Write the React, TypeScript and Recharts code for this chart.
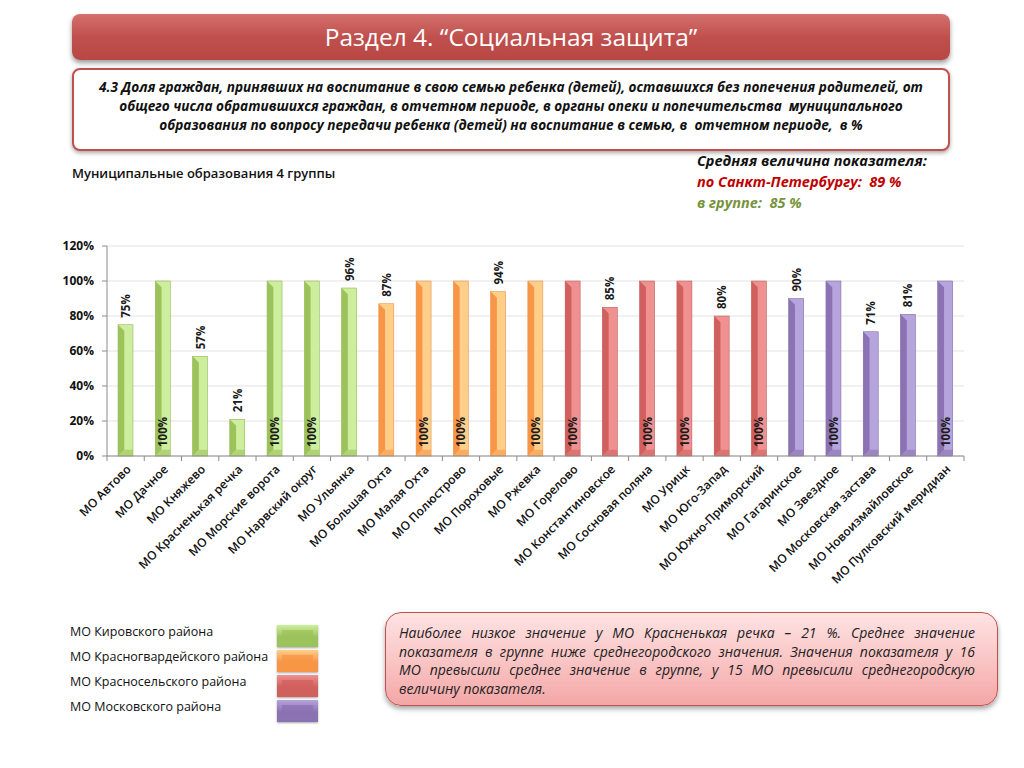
import React from "react"
import {
  BarChart,
  Bar,
  XAxis,
  YAxis,
  CartesianGrid,
  LabelList,
} from "recharts"

// Municipal districts of group 4
const categories = [
  "МО Автово",
  "МО Дачное",
  "МО Княжево",
  "МО Красненькая речка",
  "МО Морские ворота",
  "МО Нарвский округ",
  "МО Ульянка",
  "МО Большая Охта",
  "МО Малая Охта",
  "МО Полюстрово",
  "МО Пороховые",
  "МО Ржевка",
  "МО Горелово",
  "МО Константиновское",
  "МО Сосновая поляна",
  "МО Урицк",
  "МО Юго-Запад",
  "МО Южно-Приморский",
  "МО Гагаринское",
  "МО Звездное",
  "МО Московская застава",
  "МО Новоизмайловское",
  "МО Пулковский меридиан",
]

// Share, %
const values = [75, 100, 57, 21, 100, 100, 96, 87, 100, 100, 94, 100, 100, 85, 100, 100, 80, 100, 90, 100, 71, 81, 100]

// Which district each MO belongs to
const groups = [
  "kir", "kir", "kir", "kir", "kir", "kir", "kir",
  "krg", "krg", "krg", "krg", "krg",
  "krs", "krs", "krs", "krs", "krs", "krs",
  "mos", "mos", "mos", "mos", "mos",
]

const yTicks = [0, 20, 40, 60, 80, 100, 120]

const legendItems = [
  { key: "kir", label: "МО Кировского района" },
  { key: "krg", label: "МО Красногвардейского района" },
  { key: "krs", label: "МО Красносельского района" },
  { key: "mos", label: "МО Московского района" },
]

const noteLines = [
  "Наиболее низкое значение у МО Красненькая речка – 21 %. Среднее значение",
  "показателя в группе ниже среднегородского значения. Значения показателя у 16",
  "МО превысили среднее значение в группе, у 15 МО превысили среднегородскую",
  "величину показателя.",
]

const palette: Record<string, { dark: string; light: string; edge: string }> = {
  kir: { dark: "#9cc25c", light: "#cdee9c", edge: "#86a94a" },
  krg: { dark: "#f79646", light: "#ffcf8a", edge: "#e0853a" },
  krs: { dark: "#d0605e", light: "#ee9190", edge: "#b84f4d" },
  mos: { dark: "#8b72b2", light: "#b6a4dc", edge: "#76609a" },
}

const data = categories.map((name, i) => ({ name, value: values[i], group: groups[i] }))

const FONT = "'Open Sans', 'DejaVu Sans', sans-serif"
const CHART_W = 1000
const CHART_H = 380
const MARGIN = { top: 16, right: 36, left: 0, bottom: 0 }
const Y_W = 107
const halfBand = (CHART_W - MARGIN.right - MARGIN.left - Y_W) / categories.length / 2

function BevelBar(props: any) {
  const { x, y, width, height, payload } = props
  if (!height || height <= 0) return null
  const c = palette[payload.group]
  const s = width * 0.42
  return (
    <g>
      <rect x={x} y={y} width={width} height={height} fill={c.light} stroke={c.edge} strokeWidth={0.5} />
      <polygon
        points={`${x},${y} ${x + s},${y + s} ${x + s},${y + height - s} ${x},${y + height}`}
        fill={c.dark}
      />
      <polygon
        points={`${x},${y + height} ${x + s},${y + height - s} ${x + width},${y + height - s} ${x + width},${y + height}`}
        fill={c.dark}
        opacity={0.6}
      />
    </g>
  )
}

function ValueLabel(props: any) {
  const { x, y, width, height, value } = props
  const cx = x + width / 2
  // full bars carry the label inside, at the bottom
  const ty = value >= 100 ? y + height - 9 : y - 7
  return (
    <text
      x={cx}
      y={ty}
      transform={`rotate(-90, ${cx}, ${ty})`}
      textAnchor="start"
      dominantBaseline="central"
      fontSize={11.5}
      fontWeight={700}
      fill="#1a1a1a"
      fontFamily={FONT}
    >
      {value}%
    </text>
  )
}

function XTick(props: any) {
  const { x, y, payload, index } = props
  const ax = x + 6
  const ay = y + 14
  return (
    <g>
      <line x1={x - halfBand} y1={y} x2={x - halfBand} y2={y + 5} stroke="#8c8c8c" />
      {index === categories.length - 1 && (
        <line x1={x + halfBand} y1={y} x2={x + halfBand} y2={y + 5} stroke="#8c8c8c" />
      )}
      <text
        x={ax}
        y={ay}
        transform={`rotate(-45, ${ax}, ${ay})`}
        textAnchor="end"
        fontSize={12}
        fontWeight={600}
        fill="#111"
        fontFamily={FONT}
      >
        {payload.value}
      </text>
    </g>
  )
}

function Swatch({ group }: { group: string }) {
  const c = palette[group]
  return (
    <div
      style={{
        width: 41,
        height: 22,
        position: "relative",
        background: `linear-gradient(180deg, ${c.light} 0%, ${c.dark} 55%, ${c.dark} 100%)`,
        boxShadow: "0 1px 2px rgba(0,0,0,0.35)",
        marginBottom: 3,
      }}
    >
      <div
        style={{
          position: "absolute",
          left: 5,
          top: 5,
          right: 5,
          bottom: 5,
          background: c.dark,
          opacity: 0.75,
        }}
      />
    </div>
  )
}

export default function App() {
  return (
    <div
      style={{
        position: "absolute",
        left: 0,
        top: 0,
        width: 1024,
        height: 768,
        background: "#fff",
        fontFamily: FONT,
        overflow: "hidden",
      }}
    >
      {/* header */}
      <div
        style={{
          position: "absolute",
          left: 72,
          top: 14,
          width: 878,
          height: 46,
          borderRadius: 8,
          background: "linear-gradient(180deg, #d4706d 0%, #c0504d 50%, #b84744 100%)",
          boxShadow: "0 3px 5px rgba(0,0,0,0.4)",
          color: "#fff",
          fontSize: 24.5,
          lineHeight: "46px",
          textAlign: "center",
        }}
      >
        Раздел 4. “Социальная защита”
      </div>

      {/* indicator description */}
      <div
        style={{
          position: "absolute",
          left: 72,
          top: 68,
          width: 874,
          height: 72,
          border: "2px solid #c0504d",
          borderRadius: 8,
          background: "#fff",
          boxShadow: "0 2px 4px rgba(0,0,0,0.35)",
          fontSize: 13.6,
          fontWeight: 700,
          fontStyle: "italic",
          lineHeight: "19px",
          textAlign: "center",
          paddingTop: 7,
          boxSizing: "content-box",
          color: "#111",
        }}
      >
        <div>4.3 Доля граждан, принявших на воспитание в свою семью ребенка (детей), оставшихся без попечения родителей, от</div>
        <div>общего числа обратившихся граждан, в отчетном периоде, в органы опеки и попечительства&nbsp; муниципального</div>
        <div>образования по вопросу передачи ребенка (детей) на воспитание в семью, в&nbsp; отчетном периоде,&nbsp; в %</div>
      </div>

      <div style={{ position: "absolute", left: 72, top: 164, fontSize: 13, fontWeight: 600, color: "#111" }}>
        Муниципальные образования 4 группы
      </div>

      <div
        style={{
          position: "absolute",
          left: 697,
          top: 150,
          fontSize: 14.5,
          fontWeight: 700,
          fontStyle: "italic",
          lineHeight: "21px",
        }}
      >
        <div style={{ color: "#111" }}>Средняя величина показателя:</div>
        <div style={{ color: "#c00000" }}>по Санкт-Петербургу:&nbsp; 89 %</div>
        <div style={{ color: "#77933c" }}>в группе:&nbsp; 85 %</div>
      </div>

      {/* chart */}
      <div style={{ position: "absolute", left: 0, top: 230 }}>
        <BarChart width={CHART_W} height={CHART_H} data={data} margin={MARGIN}>
          <CartesianGrid vertical={false} stroke="#e3e3e3" />
          <XAxis
            dataKey="name"
            interval={0}
            height={154}
            tickLine={false}
            tickSize={0}
            tickMargin={0}
            axisLine={{ stroke: "#8c8c8c" }}
            tick={<XTick />}
          />
          <YAxis
            width={Y_W}
            domain={[0, 120]}
            ticks={yTicks}
            tickFormatter={(v: number) => `${v}%`}
            axisLine={{ stroke: "#8c8c8c" }}
            tickLine={{ stroke: "#8c8c8c" }}
            tickSize={5}
            tickMargin={8}
            tick={{ fill: "#111", fontSize: 12, fontWeight: 700, fontFamily: FONT }}
          />
          <Bar dataKey="value" barSize={15} shape={<BevelBar />} isAnimationActive={false}>
            <LabelList dataKey="value" content={<ValueLabel />} />
          </Bar>
        </BarChart>
      </div>

      {/* legend */}
      <div style={{ position: "absolute", left: 70, top: 623, fontSize: 12.5, color: "#111" }}>
        {legendItems.map((item) => (
          <div key={item.key} style={{ height: 25, lineHeight: "18px" }}>
            {item.label}
          </div>
        ))}
      </div>
      <div style={{ position: "absolute", left: 277, top: 625 }}>
        {legendItems.map((item) => (
          <Swatch key={item.key} group={item.key} />
        ))}
      </div>

      {/* note */}
      <div
        style={{
          position: "absolute",
          left: 385,
          top: 612,
          width: 613,
          height: 94,
          borderRadius: 16,
          border: "1px solid #c0504d",
          background: "linear-gradient(180deg, #ffe3e3 0%, #f9c0c0 60%, #f4a6a6 100%)",
          boxShadow: "0 3px 5px rgba(0,0,0,0.35)",
          boxSizing: "border-box",
          padding: "11px 22px 0 13px",
          fontSize: 14,
          fontStyle: "italic",
          lineHeight: "18.5px",
          color: "#222",
        }}
      >
        {noteLines.map((line, i) => (
          <div
            key={i}
            style={{
              textAlign: "justify",
              textAlignLast: i === noteLines.length - 1 ? "left" : "justify",
              whiteSpace: "nowrap",
            }}
          >
            {line}
          </div>
        ))}
      </div>
    </div>
  )
}
